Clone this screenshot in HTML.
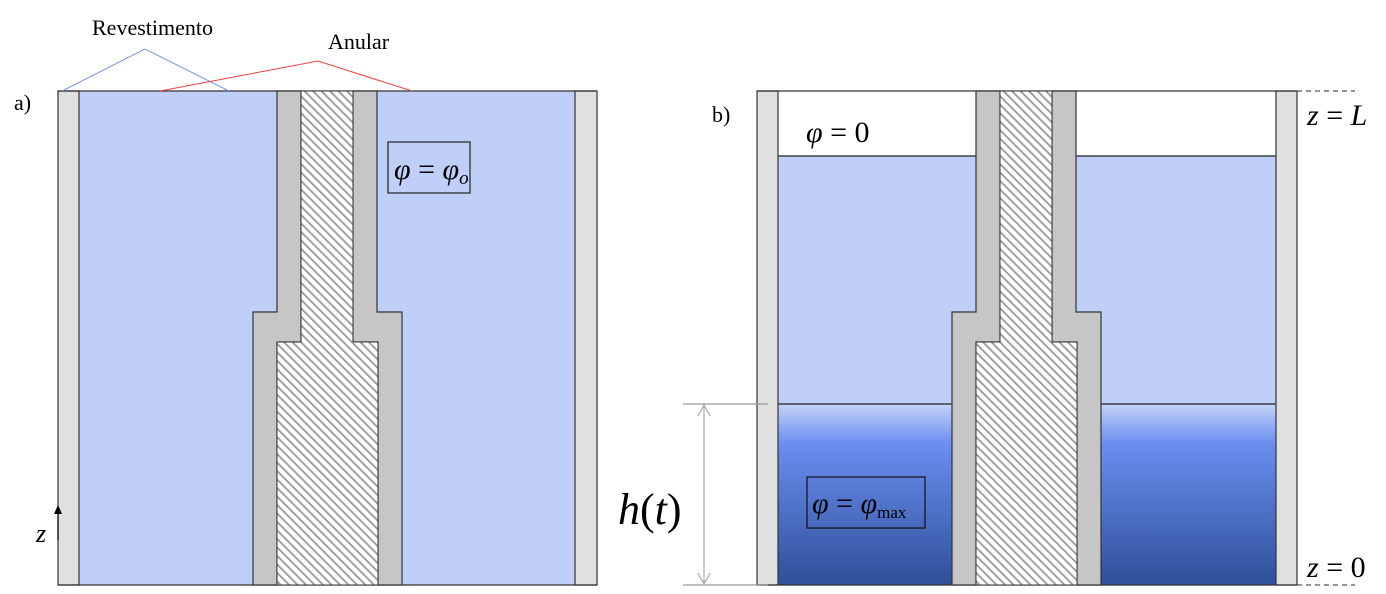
<!DOCTYPE html>
<html><head><meta charset="utf-8"><style>body{margin:0;background:#fff}svg{display:block}</style></head><body>
<svg width="1386" height="594" viewBox="0 0 1386 594" xmlns="http://www.w3.org/2000/svg" font-family="Liberation Serif, serif">
<defs>
<pattern id="h" width="6" height="6" patternUnits="userSpaceOnUse" patternTransform="rotate(-45)">
<rect width="6" height="6" fill="#fff"/><rect width="1.8" height="6" fill="#999"/></pattern>
<linearGradient id="g" x1="0" y1="0" x2="0" y2="1">
<stop offset="0" stop-color="#c4d2f8"/><stop offset="0.22" stop-color="#6a8ef0"/><stop offset="1" stop-color="#2f4f98"/></linearGradient>
<g id="tube">
<path d="M277,91 H301 V342 H277 V585 H253 V312 H277 Z" fill="#c6c6c6" stroke="#333" stroke-width="1.2"/>
<path d="M353,91 H377 V312 H402 V585 H378 V342 H353 Z" fill="#c6c6c6" stroke="#333" stroke-width="1.2"/>
<path d="M301,91 H353 V342 H378 V585 H277 V342 H301 Z" fill="url(#h)" stroke="#333" stroke-width="1"/>
</g>
</defs>
<!-- panel a -->
<rect x="79" y="91" width="496" height="494" fill="#c0cff7"/>
<rect x="58" y="91" width="21" height="494" fill="#e0e0e0" stroke="#333" stroke-width="1.2"/>
<rect x="575" y="91" width="22" height="494" fill="#e0e0e0" stroke="#333" stroke-width="1.2"/>
<line x1="58" y1="91" x2="597" y2="91" stroke="#333" stroke-width="1.2"/>
<line x1="58" y1="585" x2="597" y2="585" stroke="#333" stroke-width="1.2"/>
<use href="#tube"/>
<polyline points="62,91 145,49 229,91" fill="none" stroke="#7a9be0" stroke-width="1"/>
<polyline points="160,91 318,61 412,91" fill="none" stroke="#f04040" stroke-width="1"/>
<text x="92" y="35" font-size="22">Revestimento</text>
<text x="328" y="49" font-size="22">Anular</text>
<text x="14" y="110" font-size="22">a)</text>
<rect x="388" y="142" width="82" height="51" fill="none" stroke="#222" stroke-width="1.2"/>
<text x="394" y="179" font-size="30" font-style="italic">φ <tspan font-style="normal">=</tspan> φ<tspan font-size="19" dy="5">o</tspan></text>
<line x1="58" y1="540" x2="58" y2="512" stroke="#000" stroke-width="1.2"/>
<polygon points="54,514 58,505 62,514" fill="#000"/>
<text x="36" y="542" font-size="26" font-style="italic">z</text>
<!-- panel b -->
<rect x="778" y="91" width="498" height="65" fill="#fff"/>
<rect x="778" y="156" width="498" height="248" fill="#c0cff7"/>
<rect x="778" y="404" width="498" height="181" fill="url(#g)"/>
<line x1="778" y1="156" x2="1276" y2="156" stroke="#222" stroke-width="1.2"/>
<line x1="778" y1="404" x2="1276" y2="404" stroke="#222" stroke-width="1.2"/>
<rect x="757" y="91" width="21" height="494" fill="#e0e0e0" stroke="#333" stroke-width="1.2"/>
<rect x="1276" y="91" width="21" height="494" fill="#e0e0e0" stroke="#333" stroke-width="1.2"/>
<line x1="757" y1="91" x2="1297" y2="91" stroke="#333" stroke-width="1.2"/>
<line x1="757" y1="585" x2="1297" y2="585" stroke="#333" stroke-width="1.2"/>
<use href="#tube" transform="translate(699,0)"/>
<line x1="1297" y1="91" x2="1355" y2="91" stroke="#555" stroke-width="1.2" stroke-dasharray="5,4"/>
<line x1="1297" y1="585" x2="1355" y2="585" stroke="#555" stroke-width="1.2" stroke-dasharray="5,4"/>
<text x="1307" y="125" font-size="30" font-style="italic">z <tspan font-style="normal">=</tspan> L</text>
<text x="1307" y="577" font-size="30" font-style="italic">z <tspan font-style="normal">= 0</tspan></text>
<text x="712" y="122" font-size="22">b)</text>
<text x="806" y="142" font-size="30" font-style="italic">φ <tspan font-style="normal">= 0</tspan></text>
<line x1="683" y1="404" x2="768" y2="404" stroke="#999" stroke-width="1.2"/>
<line x1="683" y1="585" x2="768" y2="585" stroke="#999" stroke-width="1.2"/>
<line x1="704" y1="405" x2="704" y2="584" stroke="#aaa" stroke-width="1.2"/>
<polyline points="698,416 704,405 710,416" fill="none" stroke="#aaa" stroke-width="1.2"/>
<polyline points="698,573 704,584 710,573" fill="none" stroke="#aaa" stroke-width="1.2"/>
<text x="618" y="524" font-size="44" font-style="italic">h<tspan font-style="normal">(</tspan>t<tspan font-style="normal">)</tspan></text>
<rect x="807" y="477" width="118" height="51" fill="none" stroke="#111" stroke-width="1.2"/>
<text x="812" y="513" font-size="30" font-style="italic">φ <tspan font-style="normal">=</tspan> φ<tspan font-size="17" font-style="normal" dy="5">max</tspan></text>
</svg>
</body></html>
